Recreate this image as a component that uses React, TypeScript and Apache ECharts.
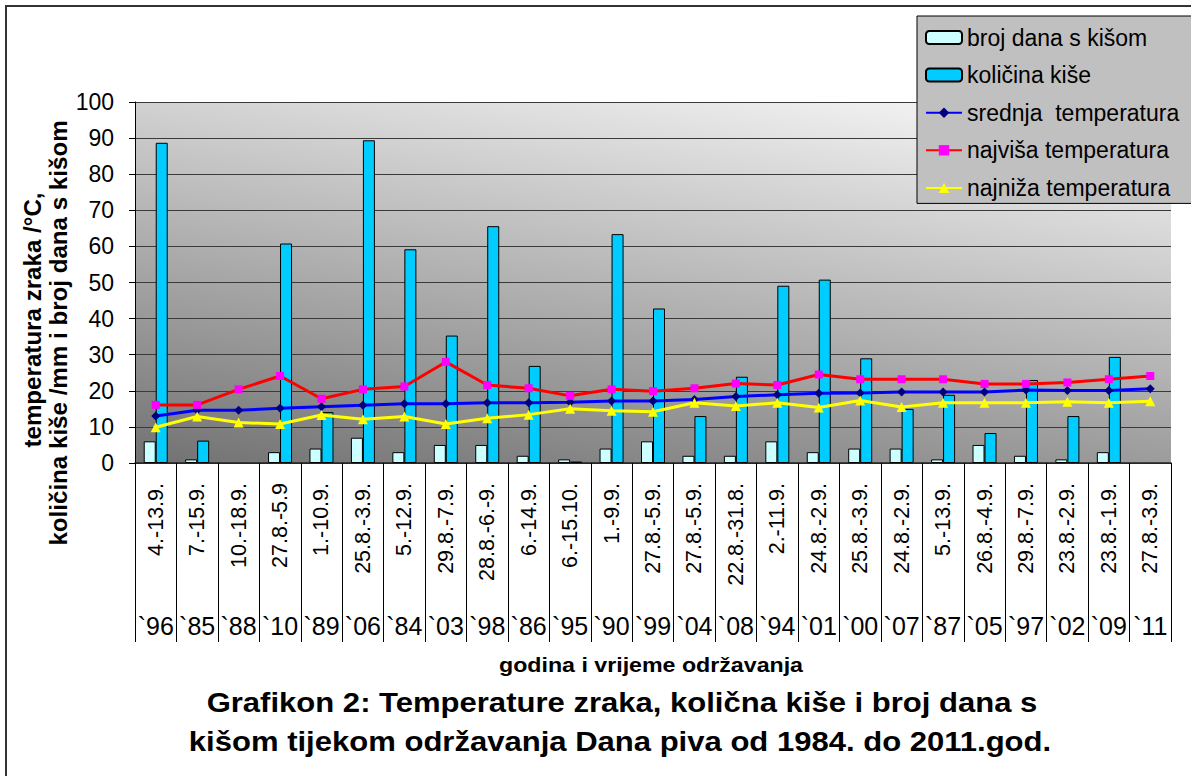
import React, { useEffect, useRef } from "react";
import * as echarts from "echarts";

const dates = [
  "4.-13.9.", "7.-15.9.", "10.-18.9.", "27.8.-5.9", "1.-10.9.", "25.8.-3.9.", "5.-12.9.",
  "29.8.-7.9.", "28.8.-6.-9.", "6.-14.9.", "6.-15.10.", "1.-9.9.", "27.8.-5.9.", "27.8.-5.9.",
  "22.8.-31.8.", "2.-11.9.", "24.8.-2.9.", "25.8.-3.9.", "24.8.-2.9.", "5.-13.9.", "26.8.-4.9.",
  "29.8.-7.9.", "23.8.-2.9.", "23.8.-1.9.", "27.8.-3.9.",
];
const years = [
  "`96", "`85", "`88", "`10", "`89", "`06", "`84", "`03", "`98", "`86", "`95", "`90", "`99",
  "`04", "`08", "`94", "`01", "`00", "`07", "`87", "`05", "`97", "`02", "`09", "`11",
];
const rainDays = [6, 1, null, 3, 4, 7, 3, 5, 5, 2, 1, 4, 6, 2, 2, 6, 3, 4, 4, 1, 5, 2, 1, 3, null];
const rainAmount = [
  88.7, 6.2, null, 60.8, 14.1, 89.4, 59.2, 35.3, 65.6, 26.9, 0.4, 63.4, 42.8, 13.0, 23.9, 49.1,
  50.8, 29.0, 15.0, 18.9, 8.3, 23.0, 13.0, 29.4, null,
];
const meanTemp = [
  13.0, 14.6, 14.6, 15.2, 15.6, 16.0, 16.4, 16.4, 16.7, 16.7, 16.8, 17.2, 17.2, 17.6, 18.4, 18.9,
  19.3, 19.4, 19.7, 19.7, 19.7, 20.2, 20.1, 20.1, 20.6,
];
const maxTemp = [
  16.1, 16.1, 20.4, 24.1, 17.8, 20.4, 21.2, 28.0, 21.6, 20.7, 18.6, 20.4, 19.9, 20.7, 22.0, 21.6,
  24.5, 23.2, 23.2, 23.2, 21.9, 21.9, 22.3, 23.2, 24.1,
];
const minTemp = [
  9.9, 12.9, 11.2, 10.8, 13.3, 12.1, 12.9, 10.8, 12.4, 13.4, 15.0, 14.5, 14.2, 16.7, 15.8, 16.7,
  15.4, 17.3, 15.5, 16.7, 16.7, 16.7, 17.0, 16.7, 17.1,
];
const seriesNames = [
  "broj dana s kišom",
  "količina kiše",
  "srednja  temperatura",
  "najviša temperatura",
  "najniža temperatura",
];

const FONT = 'Arial, "Liberation Sans", sans-serif';

export default function App() {
  const ref = useRef<HTMLDivElement>(null);
  useEffect(() => {
    if (!ref.current) return;
    const chart = echarts.init(ref.current, null, { renderer: "svg" });
    const bg = new echarts.graphic.LinearGradient(
      135, 463, 212, -43,
      [
        { offset: 0, color: "#727272" },
        { offset: 1, color: "#fbfbfb" },
      ],
      true
    );
    const boldText = (text: string, x: number, y: number, size: number, sx: number, sy: number, rot = 0) => ({
      type: "text",
      x,
      y,
      rotation: rot,
      scaleX: sx,
      scaleY: sy,
      style: {
        text,
        fontSize: size,
        fontWeight: "bold",
        fontFamily: FONT,
        fill: "#000",
        align: "center",
        verticalAlign: "middle",
      },
    });
    chart.setOption({
      animation: false,
      backgroundColor: "#ffffff",
      textStyle: { fontFamily: FONT },
      grid: {
        left: 135,
        right: 20,
        top: 102,
        bottom: 313,
        show: true,
        backgroundColor: bg,
        borderWidth: 0,
        containLabel: false,
        outerBoundsMode: "none",
      },
      legend: {
        orient: "vertical",
        left: 917,
        top: 16,
        backgroundColor: "#c0c0c0",
        borderColor: "#000",
        borderWidth: 1,
        borderRadius: 0,
        padding: [10, 40, 4, 8],
        itemWidth: 36,
        itemHeight: 13,
        itemGap: 14.6,
        data: seriesNames,
        textStyle: { fontSize: 23, lineHeight: 22, color: "#000", fontFamily: FONT },
      },
      xAxis: [
        {
          type: "category",
          data: dates,
          position: "bottom",
          boundaryGap: true,
          axisLine: { show: true, lineStyle: { color: "#222", width: 1.5 } },
          axisTick: { show: true, interval: 0, length: 179, lineStyle: { color: "#000", width: 1 } },
          axisLabel: {
            interval: 0,
            rotate: 90,
            margin: 20,
            fontSize: 21.5,
            color: "#000",
            fontFamily: FONT,
          },
          splitLine: { show: false },
        },
        {
          type: "category",
          data: years,
          position: "bottom",
          boundaryGap: true,
          axisLine: { show: false },
          axisTick: { show: false },
          axisLabel: {
            interval: 0,
            margin: 150,
            fontSize: 25,
            color: "#000",
            fontFamily: FONT,
          },
          splitLine: { show: false },
        },
      ],
      yAxis: {
        type: "value",
        min: 0,
        max: 100,
        interval: 10,
        axisLine: { show: true, lineStyle: { color: "#000", width: 1 } },
        axisTick: { show: true, length: 6, lineStyle: { color: "#000" } },
        axisLabel: { fontSize: 23, margin: 21, color: "#000", fontFamily: FONT },
        splitLine: { show: true, lineStyle: { color: "#3a3a3a", width: 1 } },
      },
      series: [
        {
          name: seriesNames[0],
          type: "bar",
          data: rainDays,
          barWidth: 12,
          barGap: "0%",
          itemStyle: { color: "#ccffff", borderColor: "#000", borderWidth: 1 },
        },
        {
          name: seriesNames[1],
          type: "bar",
          data: rainAmount,
          barWidth: 12,
          barGap: "0%",
          itemStyle: { color: "#00ccff", borderColor: "#000", borderWidth: 1 },
        },
        {
          name: seriesNames[2],
          type: "line",
          data: meanTemp,
          symbol: "diamond",
          symbolSize: 9,
          lineStyle: { color: "#0000ff", width: 3 },
          itemStyle: { color: "#000080" },
          z: 5,
        },
        {
          name: seriesNames[3],
          type: "line",
          data: maxTemp,
          symbol: "rect",
          symbolSize: 8,
          lineStyle: { color: "#ff0000", width: 3 },
          itemStyle: { color: "#ff00ff" },
          z: 5,
        },
        {
          name: seriesNames[4],
          type: "line",
          data: minTemp,
          symbol: "triangle",
          symbolSize: 10,
          lineStyle: { color: "#ffff00", width: 3 },
          itemStyle: { color: "#ffff00" },
          z: 5,
        },
      ],
      graphic: [
        {
          type: "rect",
          shape: { x: 6, y: 6, width: 1200, height: 800 },
          style: { fill: "none", stroke: "#333", lineWidth: 2 },
          silent: true,
        },
        boldText("temperatura zraka /°C,", 32, 320, 23, 1.05, 1.08, Math.PI / 2),
        boldText("količina kiše /mm i broj dana s kišom", 58, 333, 23, 1.05, 1.08, Math.PI / 2),
        boldText("godina i vrijeme održavanja", 651, 665, 20, 1.16, 1),
        boldText("Grafikon 2: Temperature zraka, količna kiše i broj dana s", 622, 703, 27, 1.15, 1),
        boldText("kišom tijekom održavanja Dana piva od 1984. do 2011.god.", 620, 742, 27, 1.15, 1),
      ],
    });
    return () => chart.dispose();
  }, []);
  return (
    <div
      ref={ref}
      style={{ position: "absolute", left: 0, top: 0, width: 1191, height: 776, background: "#fff" }}
    />
  );
}
